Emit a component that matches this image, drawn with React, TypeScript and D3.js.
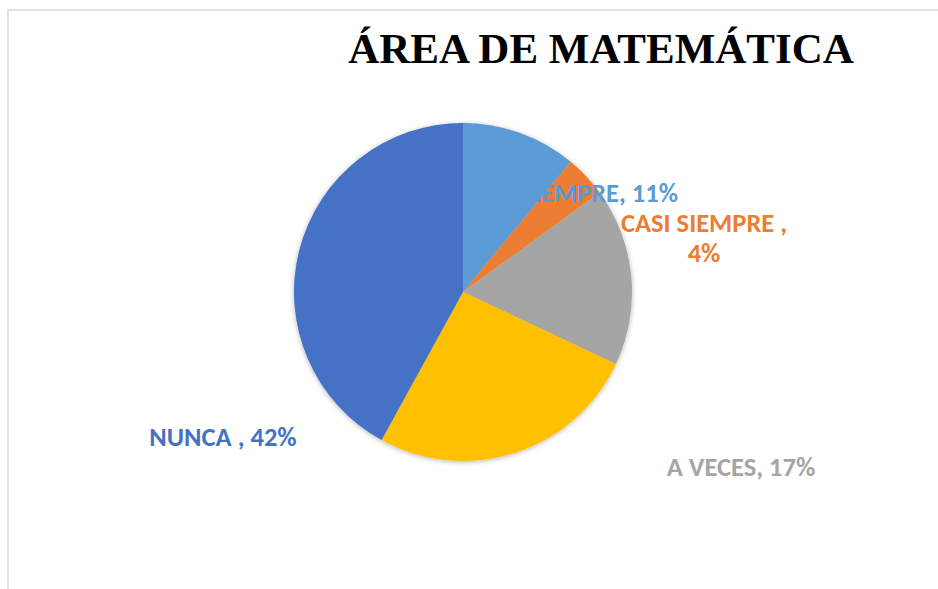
import React from "react";
import * as d3 from "d3";

const title = "ÁREA DE MATEMÁTICA";
const categories = ["SIEMPRE", "CASI SIEMPRE", "A VECES", "CASI NUNCA", "NUNCA"];
const values = [11, 4, 17, 26, 42];
const colors = ["#5B9BD5", "#ED7D31", "#A5A5A5", "#FFC000", "#4472C4"];
// label lines per slice (the yellow slice has no visible label)
const labelLines = [
  ["SIEMPRE, 11%"],
  ["CASI SIEMPRE ,", "4%"],
  ["A VECES, 17%"],
  [],
  ["NUNCA , 42%"],
];

const width = 938, height = 589;
const cx = 463, cy = 292, radius = 169;
// label placement, relative to pie centre (hand-placed in the original)
const labelPos = [
  { dx: 215, dy: -90, anchor: "end" },
  { dx: 241, dy: -60, anchor: "middle" },
  { dx: 278, dy: 184, anchor: "middle" },
  { dx: 0, dy: 0, anchor: "middle" },
  { dx: -240, dy: 154, anchor: "middle" },
];

export default function App() {
  const pie = d3.pie<number>().sort(null).value((d) => d);
  const arcs = pie(values);
  const arc = d3.arc<d3.PieArcDatum<number>>().innerRadius(0).outerRadius(radius);

  return (
    <svg
      width={width}
      height={height}
      style={{ position: "absolute", left: 0, top: 0, display: "block", background: "#fff" }}
    >
      <defs>
        <filter id="shadow" x="-20%" y="-20%" width="140%" height="140%">
          <feDropShadow dx="0" dy="1" stdDeviation="2.5" floodColor="#000" floodOpacity="0.3" />
        </filter>
      </defs>
      <path d="M8,600 L8,10 L950,10" fill="none" stroke="#d9d9d9" strokeWidth={1.5} />
      <text
        x={601}
        y={63}
        textAnchor="middle"
        fontFamily="'Liberation Serif', 'Times New Roman', serif"
        fontWeight="bold"
        fontSize={43}
        fill="#000"
      >
        {title}
      </text>
      <g transform={`translate(${cx},${cy})`}>
        <g filter="url(#shadow)">
          {arcs.map((a, i) => (
            <path key={categories[i]} d={arc(a) || ""} fill={colors[i]} />
          ))}
        </g>
        {labelLines.map((lines, i) =>
          lines.length ? (
            <text
              key={"l" + i}
              x={labelPos[i].dx}
              y={labelPos[i].dy}
              textAnchor={labelPos[i].anchor}
              fontFamily="Carlito, Calibri, Lato, sans-serif"
              fontWeight="bold"
              fontSize={26.5}
              fill={colors[i]}
            >
              {lines.map((t, j) => (
                <tspan key={j} x={labelPos[i].dx} dy={j === 0 ? 0 : 30}>
                  {t}
                </tspan>
              ))}
            </text>
          ) : null
        )}
      </g>
    </svg>
  );
}
